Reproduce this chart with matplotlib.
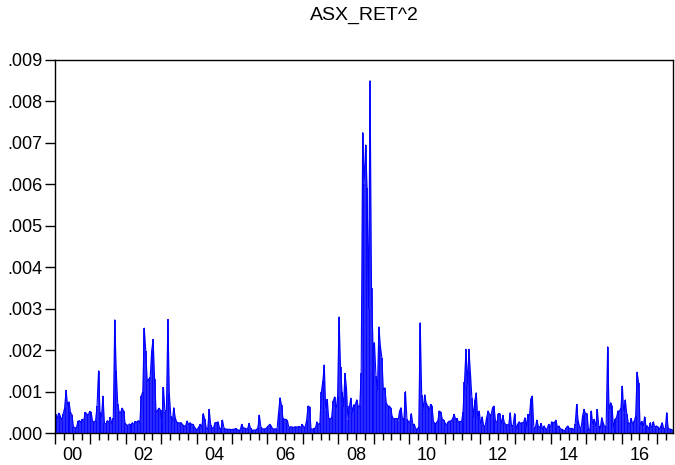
import numpy as np
from matplotlib import pyplot as plt

plt.rcParams['font.family'] = ['Liberation Sans', 'DejaVu Sans']

# squared returns, units of 1e-4, two values per month
r2_2000 = [4.5, 3.5, 4.8, 4.2, 3.0, 4.6, 6.0, 10.3, 6.8, 7.5, 5.0, 4.4,
           1.5, 1.3, 1.2, 2.8, 3.0, 2.6, 3.3, 3.0, 5.0, 4.6, 4.3, 5.2]
r2_2001 = [5.0, 2.8, 2.6, 3.0, 6.5, 15.0, 5.0, 4.0, 8.9, 2.5, 2.0, 3.0,
           2.5, 3.8, 2.3, 3.5, 27.3, 15.0, 7.0, 5.0, 5.0, 6.0, 5.3, 2.3]
r2_2002 = [2.0, 1.8, 2.2, 1.7, 2.5, 2.0, 2.8, 2.6, 3.0, 2.4, 8.9, 10.0,
           25.3, 19.8, 12.5, 13.0, 13.4, 19.8, 22.6, 13.0, 5.0, 5.5, 6.0, 5.5]
r2_2003 = [2.5, 11.0, 5.0, 5.5, 27.4, 9.3, 4.0, 2.9, 6.1, 3.7, 2.6, 2.5,
           2.4, 2.5, 2.0, 1.7, 1.7, 2.9, 2.0, 2.5, 2.1, 2.1, 1.5, 0.9]
r2_2004 = [0.9, 1.5, 2.1, 1.4, 4.7, 3.3, 1.2, 1.0, 5.7, 2.0, 1.2, 1.3,
           2.5, 2.5, 2.7, 1.2, 0.9, 3.1, 1.2, 1.0, 0.9, 0.9, 0.9, 0.8]
r2_2005 = [0.9, 0.9, 1.1, 0.8, 0.7, 0.7, 2.1, 1.3, 1.2, 1.0, 1.0, 2.3,
           1.2, 0.7, 0.7, 0.7, 0.8, 1.3, 4.3, 1.5, 1.0, 1.0, 1.0, 1.3]
r2_2006 = [1.7, 2.1, 1.7, 1.0, 1.0, 1.0, 1.0, 4.9, 8.5, 6.7, 3.5, 3.3,
           3.3, 3.0, 1.3, 1.5, 1.5, 1.3, 1.5, 1.5, 1.4, 1.6, 1.3, 2.1]
r2_2007 = [1.5, 1.4, 3.0, 6.5, 6.3, 1.0, 0.9, 1.1, 1.2, 2.7, 2.0, 2.4,
           9.9, 12.5, 16.4, 5.3, 8.1, 3.5, 3.3, 3.8, 7.7, 8.7, 5.5, 8.7]
r2_2008 = [28.0, 16.0, 10.0, 6.4, 14.4, 11.0, 3.2, 6.4, 8.4, 5.0, 6.8, 6.8,
           8.0, 6.4, 6.4, 14.4, 72.5, 60.0, 69.5, 59.0, 30.0, 85.0, 35.0, 21.0]
r2_2009 = [21.8, 13.8, 10.5, 25.6, 21.0, 18.2, 10.5, 10.9, 7.3, 6.5, 6.5, 6.1,
           4.0, 3.3, 3.5, 3.5, 3.0, 5.3, 6.1, 3.3, 3.5, 10.0, 3.3, 2.8]
r2_2010 = [2.5, 4.7, 2.1, 2.1, 1.0, 0.9, 1.5, 26.6, 9.2, 5.7, 9.2, 7.3,
           6.5, 5.3, 6.9, 6.5, 2.7, 2.1, 2.5, 3.0, 5.3, 5.0, 3.3, 3.1]
r2_2011 = [2.3, 2.0, 2.7, 2.9, 2.9, 3.5, 4.5, 3.3, 3.5, 2.5, 2.8, 2.7,
           5.0, 12.3, 20.2, 11.7, 20.2, 14.7, 8.5, 4.0, 7.9, 9.7, 3.5, 5.3]
r2_2012 = [2.0, 3.9, 1.7, 1.7, 3.7, 5.3, 4.5, 4.3, 6.1, 6.5, 2.9, 2.5,
           4.7, 4.7, 2.0, 4.3, 2.5, 2.0, 2.0, 2.0, 4.9, 1.3, 2.0, 4.7]
r2_2013 = [0.9, 2.1, 2.7, 2.3, 2.5, 2.5, 3.7, 1.7, 4.5, 4.1, 8.3, 8.9,
           1.3, 1.3, 3.1, 1.7, 1.3, 2.3, 0.9, 1.7, 1.0, 1.0, 2.1, 0.9]
r2_2014 = [2.7, 2.5, 2.6, 3.1, 1.3, 1.7, 1.0, 0.9, 0.7, 0.5, 1.3, 1.7,
           1.1, 1.1, 1.1, 0.6, 2.1, 6.9, 3.0, 1.5, 1.0, 4.1, 5.7, 4.7]
r2_2015 = [4.7, 0.9, 0.8, 5.3, 1.7, 3.3, 1.3, 5.7, 1.7, 1.1, 3.7, 2.5,
           1.5, 1.7, 20.8, 5.3, 7.3, 6.5, 1.3, 3.3, 3.7, 5.3, 5.3, 6.0]
r2_2016 = [11.3, 4.5, 8.0, 4.5, 2.5, 2.0, 3.5, 2.0, 2.8, 4.1, 14.7, 12.1,
           1.7, 2.8, 1.2, 3.9, 1.7, 1.7, 0.9, 2.5, 0.9, 2.7, 1.3, 1.7]
r2_2017 = [1.5, 0.9, 1.6, 2.5, 1.1, 0.7, 4.9, 1.3, 0.9, 0.9, 0.7]

years = list(range(2000, 2018))
series = [r2_2000, r2_2001, r2_2002, r2_2003, r2_2004, r2_2005, r2_2006,
          r2_2007, r2_2008, r2_2009, r2_2010, r2_2011, r2_2012, r2_2013,
          r2_2014, r2_2015, r2_2016, r2_2017]

t = []
v = []
for yr, vals in zip(years, series):
    for k, val in enumerate(vals):
        t.append(yr + (k + 0.5) / 24)
        v.append(val * 1e-4)
t = np.array(t)
v = np.array(v)

fig = plt.figure(figsize=(6.75, 4.65), dpi=100)
ax = fig.add_axes([55 / 675, 32 / 465, 618 / 675, 373 / 465])

ax.vlines(t, 0, v, color='#0000ff', linewidth=1.2)
ax.plot(t, v, color='#0000ff', linewidth=0.8)

ax.set_xlim(2000.0, 2017.45)
ax.set_ylim(0, 0.009)

# year boundaries get long ticks, quarters short, labels in the middle of even years
ax.set_xticks(years, [''] * len(years))
quarters = [yr + q / 4 for yr in range(2000, 2018) for q in (1, 2, 3)]
quarters = [q for q in quarters if q < 2017.45]
qlabels = ['%02d' % (int(q) - 2000) if (q % 1 == 0.5 and int(q) % 2 == 0) else ''
           for q in quarters]
ax.set_xticks(quarters, qlabels, minor=True)
ax.tick_params(axis='x', which='major', length=8, width=1, direction='out')
ax.tick_params(axis='x', which='minor', length=5, width=1, direction='out',
               labelsize=13, pad=5)

yt = np.arange(0, 0.0091, 0.001)
ax.set_yticks(yt, [('%.3f' % y)[1:] for y in yt])
ax.tick_params(axis='y', length=7, width=1, direction='out', labelsize=13, pad=2)

for s in ax.spines.values():
    s.set_linewidth(1)

ax.set_title('ASX_RET^2', fontsize=14, pad=29)

fig.savefig('out.png', dpi=100)
